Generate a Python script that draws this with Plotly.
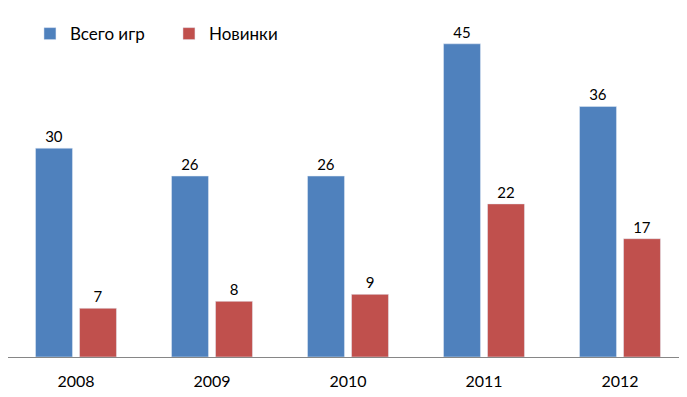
import plotly.graph_objects as go

years = ["2008", "2009", "2010", "2011", "2012"]
total_games = [30, 26, 26, 45, 36]
new_games = [7, 8, 9, 22, 17]

font_family = "Lato, Open Sans, sans-serif"

fig = go.Figure()
fig.add_trace(go.Bar(x=years, y=total_games, name="Всего игр",
                     marker_color="#4F81BD", hoverinfo="skip", cliponaxis=False,
                     text=total_games, textposition="outside",
                     textfont=dict(size=15, color="#000000")))
fig.add_trace(go.Bar(x=years, y=new_games, name="Новинки",
                     marker_color="#C0504D", hoverinfo="skip", cliponaxis=False,
                     text=new_games, textposition="outside",
                     textfont=dict(size=15, color="#000000")))

# page body has an 8px default margin, so the figure is offset by 8px
fig.update_layout(
    width=687, height=397,
    margin=dict(l=0, r=7, t=1, b=48),
    paper_bgcolor="white", plot_bgcolor="white",
    barmode="group", bargap=0.353, bargroupgap=0.16,
    font=dict(family=font_family, size=15, color="#000000"),
    showlegend=True,
    legend=dict(orientation="h", x=0.0323, y=0.928, xanchor="left", yanchor="middle",
                font=dict(size=17), itemwidth=30, entrywidth=94,
                entrywidthmode="pixels", tracegroupgap=0,
                bgcolor="rgba(0,0,0,0)"),
    xaxis=dict(type="category", categoryorder="array", categoryarray=years,
               range=[-0.5, len(years) - 0.5], autorange=False,
               showline=True, linecolor="#868686", linewidth=1,
               ticks="", showgrid=False, tickfont=dict(size=16), ticklabelstandoff=10),
    yaxis=dict(range=[0, 50], autorange=False, visible=False,
               showgrid=False, zeroline=False),
)

fig.write_html("out.html", config={"displayModeBar": False})
